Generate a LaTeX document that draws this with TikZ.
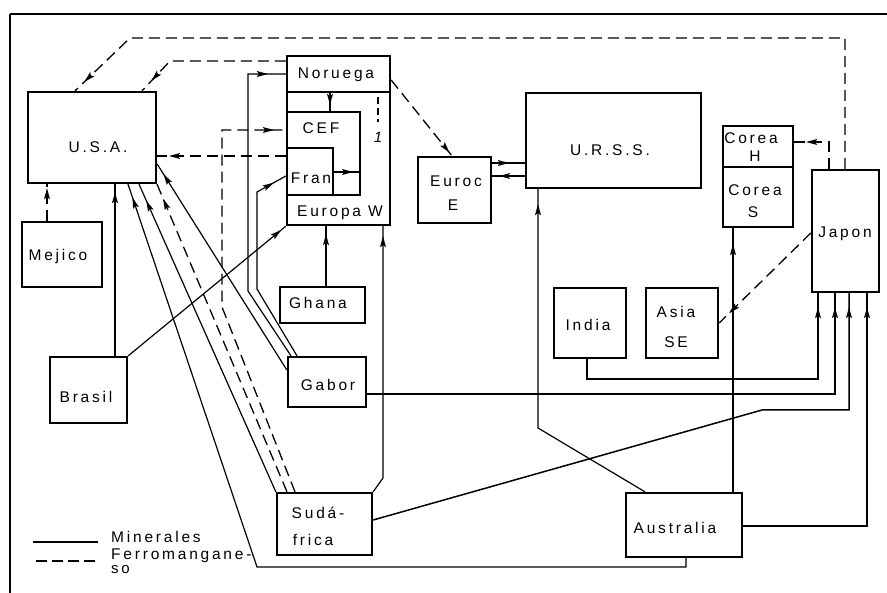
\documentclass[tikz,border=0pt]{standalone}
\usepackage{fontspec}
\usetikzlibrary{decorations.markings}
\newfontfamily\lbl{Liberation Sans}[LetterSpace=18]
\begin{document}
\begin{tikzpicture}[x=1pt,y=-1pt,
  box/.style={draw,line width=2.3pt,inner sep=0pt,minimum width=#1},
  txt/.style={font=\lbl\fontsize{15.5}{16}\selectfont,inner sep=0pt},
  mineral/.style={line width=1.2pt},
  ferro/.style={line width=1.3pt,dash pattern=on 11pt off 6pt},
  midarrow/.style={postaction={decorate,decoration={markings,
     mark=at position #1 with {\fill[solid] (2pt,0pt) -- (-9pt,3pt) -- (-7pt,0pt) -- (-9pt,-3pt) -- cycle;}}}}
]
\useasboundingbox (0,0) rectangle (887,593);
% frame
\draw[line width=2.8pt] (10,14) -- (887,14);
\draw[line width=1.6pt] (10,14) -- (10,593);

% boxes
\node[box=128pt,minimum height=91pt] (usa) at (92,137.5) {};
\node[box=80pt,minimum height=65pt] (mej) at (62,254.5) {};
\node[box=77pt,minimum height=66pt] (bra) at (88.5,390) {};
\node[box=103pt,minimum height=169pt] (eurw) at (338.5,140.5) {};
\node[box=103pt,minimum height=36pt] (nor) at (338.5,74) {};
\node[box=73pt,minimum height=83pt] (cee) at (323.5,153.5) {};
\node[box=46pt,minimum height=47pt] (fra) at (310,171.5) {};
\node[box=85pt,minimum height=36pt] (gha) at (322.5,305) {};
\node[box=78pt,minimum height=50pt] (gab) at (327,382) {};
\node[box=95pt,minimum height=62pt] (sud) at (324.5,524) {};
\node[box=73pt,minimum height=66pt] (eure) at (454.5,190) {};
\node[box=175pt,minimum height=95pt] (urs) at (613.5,140.5) {};
\node[box=70pt,minimum height=41pt] (coh) at (758,146.5) {};
\node[box=70pt,minimum height=60pt] (cos) at (758,197) {};
\node[box=67pt,minimum height=122pt] (jap) at (845.5,231) {};
\node[box=72pt,minimum height=70pt] (ind) at (590,323) {};
\node[box=72pt,minimum height=70pt] (asi) at (682,323) {};
\node[box=116pt,minimum height=64pt] (aus) at (684,525) {};

% labels
\node[txt] (tusa) at (98,147) {U.S.A.};
\node[txt] (tmej) at (58,256) {Mejico};
\node[txt] (tbra) at (86,397) {Brasil};
\node[txt] (tnor) at (336,75) {Noruega};
\node[txt] (tcee) at (321,128) {CEF};
\node[txt] (tfra) at (311,178) {Fran};
\node[txt] (teurw) at (340,213) {Europa W};
\node[txt,font=\lbl\itshape\fontsize{15}{16}\selectfont] (tone) at (378,137) {1};
\node[txt] (tgha) at (318,303) {Ghana};
\node[txt] (tgab) at (328,385) {Gabor};
\node[txt] (tsud1) at (318,513) {Sudá-};
\node[txt] (tsud2) at (313,540) {frica};
\node[txt] (teur1) at (456,181) {Euroc};
\node[txt] (teur2) at (453,205) {E};
\node[txt] (turs) at (610,150) {U.R.S.S.};
\node[txt] (tcoh1) at (751,138) {Corea};
\node[txt] (tcoh2) at (755,156) {H};
\node[txt] (tcos1) at (755,190) {Corea};
\node[txt] (tcos2) at (753,212) {S};
\node[txt] (tjap) at (845,234) {Japon};
\node[txt] (tind) at (588,325) {India};
\node[txt] (tasi1) at (676,312) {Asia};
\node[txt] (tasi2) at (676,342) {SE};
\node[txt] (taus) at (675,528) {Australia};

% legend
\draw[mineral] (33,542) -- (98,542);
\draw[ferro,dash pattern=on 11pt off 5pt] (36,561) -- (100,561);
\node[txt,anchor=west] (tmin) at (111,537) {Minerales};
\node[txt,anchor=west] (tfer) at (111,556) {Ferromangane-};
\node[txt,anchor=west,font=\lbl\fontsize{15}{15}\selectfont] (tso) at (111,570) {so};

% small dashed mark in Europa W
\draw[ferro,dash pattern=on 7pt off 4pt] (378,97) -- (378,122);

% connectors to U.S.A.
\draw[ferro,midarrow=-6pt] (47,0 |- mej.north) -- (47,0 |- usa.south);
\draw[mineral,midarrow=-10pt] (115,0 |- bra.north) -- (115,0 |- usa.south);
\draw[ferro,midarrow=-15pt] (845,0 |- jap.north) -- (845,38) -- (130,38) -- (75,0 |- usa.north);
\draw[ferro,midarrow=-16pt] (nor.west |- 0,61) -- (170,61) -- (142,0 |- usa.north);
\draw[ferro,midarrow=-14pt] (fra.west |- 0,156) -- (usa.east |- 0,156);
\draw[mineral,midarrow=-14pt] (gab.west |- 0,370) -- (usa.east |- 0,164);
\draw[mineral,midarrow=-16pt] (686,0 |- aus.south) -- (686,567) -- (257,567) -- (128,0 |- usa.south);
\draw[mineral,midarrow=-20pt] (sud.north west) -- (139,0 |- usa.south);
\draw[ferro,midarrow=-18pt] (287,0 |- sud.north) -- (157,0 |- usa.south);

% connectors to Europe W
\draw[ferro,midarrow=-14pt] (295,0 |- sud.north) -- (222,307) -- (222,130) -- (cee.west |- 0,130);
\draw[mineral,midarrow=-8pt] (bra.north east) -- (eurw.south west);
\draw[mineral,midarrow=-20pt] (291,0 |- gab.north) -- (248,291) -- (248,74) -- (nor.west |- 0,74);
\draw[mineral,midarrow=-16pt] (297,0 |- gab.north) -- (257,289) -- (257,192) -- (fra.west |- 0,176);
\draw[mineral,midarrow=-10pt] (326,0 |- gha.north) -- (326,0 |- eurw.south);
\draw[mineral,midarrow=-12pt] (sud.north east) -- (383,478) -- (383,0 |- eurw.south);
\draw[mineral,midarrow=-8pt] (330,0 |- nor.south) -- (330,0 |- cee.north);
\draw[mineral,midarrow=-10pt] (fra.east |- 0,172) -- (cee.east |- 0,172);

% Europe E / URSS
\draw[ferro,midarrow=-6pt] (nor.east |- 0,80) -- (452,0 |- eure.north);
\draw[mineral,midarrow=-18pt] (eure.east |- 0,163) -- (urs.west |- 0,163);
\draw[mineral,midarrow=-9pt] (urs.west |- 0,176) -- (eure.east |- 0,176);
\draw[mineral,midarrow=-17pt] (645,0 |- aus.north) -- (538,428) -- (538,0 |- urs.south);

% Asia
\draw[mineral,midarrow=-18pt] (733,0 |- aus.north) -- (733,0 |- cos.south);
\draw[ferro,midarrow=-14pt] (829,0 |- jap.north) -- (829,142) -- (coh.east |- 0,142);
\draw[ferro,midarrow=-16pt] (jap.west |- 0,233) -- (asi.east |- 0,323);

% to Japon
\draw[mineral,midarrow=-16pt] (587,0 |- ind.south) -- (587,379) -- (818,379) -- (818,0 |- jap.south);
\draw[mineral,midarrow=-16pt] (gab.east |- 0,394) -- (835,394) -- (835,0 |- jap.south);
\draw[mineral,line width=1.5pt,midarrow=-16pt] (sud.east |- 0,520) -- (762,410) -- (849,410) -- (849,0 |- jap.south);
\draw[mineral,midarrow=-16pt] (aus.east |- 0,526) -- (867,526) -- (867,0 |- jap.south);
\end{tikzpicture}
\end{document}
